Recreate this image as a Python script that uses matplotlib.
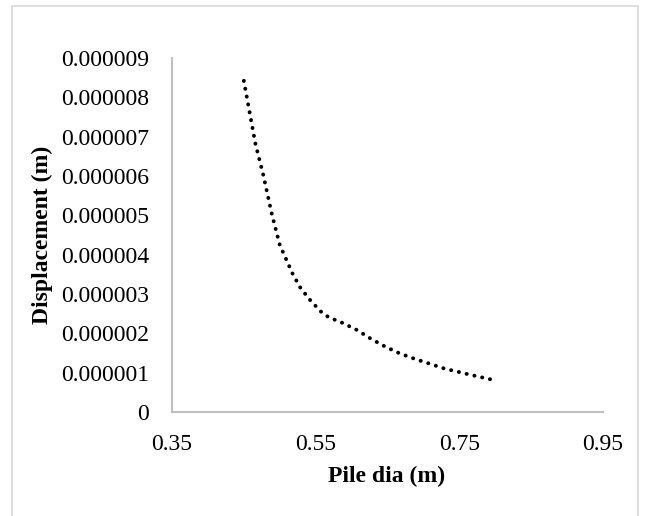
import matplotlib
matplotlib.use("Agg")
import matplotlib.pyplot as plt
from matplotlib.patches import Rectangle

# Pile diameter (m) vs displacement (m)
pile_dia = [0.450, 0.466, 0.477, 0.489, 0.500, 0.509, 0.518, 0.529, 0.543, 0.558,
            0.568, 0.588, 0.608, 0.627, 0.647, 0.667, 0.688, 0.730, 0.774, 0.796]
displacement = [8.42e-6, 6.83e-6, 6.03e-6, 5.03e-6, 4.25e-6, 3.88e-6, 3.51e-6, 3.15e-6,
                2.83e-6, 2.54e-6, 2.41e-6, 2.26e-6, 2.08e-6, 1.86e-6, 1.66e-6, 1.49e-6,
                1.35e-6, 1.10e-6, 0.91e-6, 0.82e-6]

x_ticks = [0.35, 0.55, 0.75, 0.95]
x_tick_labels = ["0.35", "0.55", "0.75", "0.95"]
y_ticks = [i * 1e-6 for i in range(10)]
y_tick_labels = ["0"] + ["0.00000%d" % i for i in range(1, 10)]

plt.rcParams["font.family"] = ["Liberation Serif", "DejaVu Serif"]

W, H = 646, 516
fig = plt.figure(figsize=(W / 100, H / 100), dpi=100)
fig.patch.set_facecolor("white")

# chart-area border
fig.patches.append(Rectangle((12 / W, -0.05), (638 - 12) / W, 1 - 6 / H + 0.05,
                             transform=fig.transFigure, fill=False,
                             edgecolor="#d9d9d9", linewidth=1.2))

left, right, top, bottom = 172, 603, 58, 412
ax = fig.add_axes([left / W, 1 - bottom / H, (right - left) / W, (bottom - top) / H])

ax.plot(pile_dia, displacement, color="black", linewidth=2.8,
        linestyle=(0, (0.05, 2.0)), dash_capstyle="round")

ax.set_xlim(0.35, 0.95)
ax.set_ylim(0, 9e-6)
ax.set_xticks(x_ticks)
ax.set_xticklabels(x_tick_labels)
ax.set_yticks(y_ticks)
ax.set_yticklabels(y_tick_labels)
ax.tick_params(length=0, labelsize=17, colors="black")
ax.tick_params(axis="x", pad=16)
ax.tick_params(axis="y", pad=16.5)

for side in ["top", "right"]:
    ax.spines[side].set_visible(False)
for side in ["left", "bottom"]:
    ax.spines[side].set_color("#bfbfbf")
    ax.spines[side].set_linewidth(1.5)

ax.set_xlabel("Pile dia (m)", fontsize=17, fontweight="bold")
ax.set_ylabel("Displacement (m)", fontsize=17, fontweight="bold")
ax.xaxis.set_label_coords(387 / W, 1 - 476 / H, transform=fig.transFigure)
ax.xaxis.label.set_va("center")
ax.yaxis.set_label_coords(42 / W, 1 - 235 / H, transform=fig.transFigure)
ax.yaxis.label.set_va("center")

fig.savefig("out.png", dpi=100, facecolor=fig.get_facecolor())
